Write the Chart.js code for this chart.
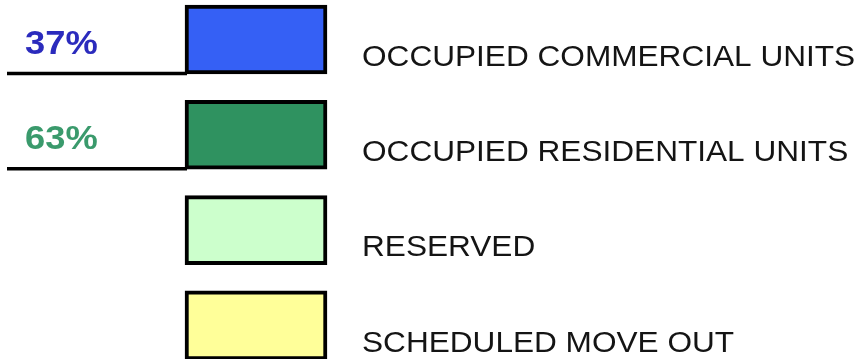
<!DOCTYPE html>
<html>
<head>
<meta charset="utf-8">
<script src="https://cdn.jsdelivr.net/npm/chart.js@4/dist/chart.umd.min.js"></script>
<style>
  html, body { margin: 0; padding: 0; background: #ffffff; overflow: hidden; }
  #wrap { width: 865px; height: 359px; }
</style>
</head>
<body>
<div id="wrap"><canvas id="c" width="865" height="359"></canvas></div>
<script>
// ---- data ----
const categories = ['OCCUPIED COMMERCIAL UNITS', 'OCCUPIED RESIDENTIAL UNITS', 'RESERVED', 'SCHEDULED MOVE OUT'];
const swatchValues = [1, 1, 1, 1];
const percentLabels = ['37%', '63%', null, null];

// ---- styles ----
const fillColors = ['#3560f5', '#2f9260', '#ccffcc', '#ffff99'];
const percentColors = ['#2b2bbd', '#3a9a6c', null, null];

const points = categories.map((c, i) => ({ x: swatchValues[i], y: i }));

function stretchedText(ctx, text, x, y, sx) {
  ctx.save();
  ctx.translate(x, y);
  ctx.scale(sx, 1);
  ctx.fillText(text, 0, 0);
  ctx.restore();
}

const legendText = {
  id: 'legendText',
  afterDatasetsDraw(chart) {
    const ctx = chart.ctx;
    const xs = chart.scales.x, ys = chart.scales.y;
    const boxLeft = xs.getPixelForValue(0);
    ctx.save();
    categories.forEach((label, i) => {
      const yc = ys.getPixelForValue(i);
      ctx.fillStyle = '#141414';
      ctx.font = '30px "Liberation Sans", Arial, sans-serif';
      ctx.textBaseline = 'middle';
      ctx.textAlign = 'left';
      stretchedText(ctx, label, 362, yc + 18, 1.053);
      if (percentLabels[i]) {
        ctx.fillStyle = percentColors[i];
        ctx.font = 'bold 33px "Liberation Sans", Arial, sans-serif';
        stretchedText(ctx, percentLabels[i], 25, yc + 5, 1.1);
        ctx.strokeStyle = '#000000';
        ctx.lineWidth = 3.5;
        ctx.beginPath();
        ctx.moveTo(7, yc + 34);
        ctx.lineTo(boxLeft + 2, yc + 34);
        ctx.stroke();
      }
    });
    ctx.restore();
  }
};

new Chart(document.getElementById('c'), {
  type: 'bar',
  data: {
    datasets: [{
      data: points,
      backgroundColor: fillColors,
      borderColor: '#000000',
      borderWidth: 4,
      borderSkipped: false,
      barThickness: 69
    }]
  },
  options: {
    indexAxis: 'y',
    responsive: false,
    animation: false,
    layout: { padding: 0 },
    plugins: { legend: { display: false }, tooltip: { enabled: false } },
    scales: {
      x: { type: 'linear', display: false, offset: false, min: -1.303, max: 4.789 },
      y: { type: 'linear', display: false, offset: false, reverse: true, min: -0.414, max: 3.352 }
    }
  },
  plugins: [legendText]
});
</script>
</body>
</html>
